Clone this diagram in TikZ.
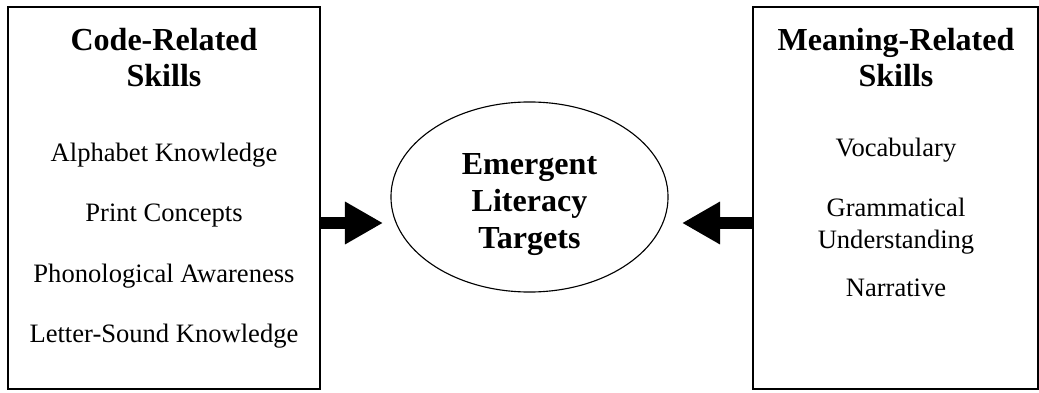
\documentclass[tikz,border=0pt]{standalone}
\usepackage{fontspec}
\setmainfont{Liberation Serif}
\usetikzlibrary{shapes,arrows.meta,positioning}

\begin{document}
\begin{tikzpicture}[x=0.025cm, y=-0.025cm,
    skillbox/.style={draw, line width=1.1pt, inner sep=0pt},
    heading/.style={align=center, anchor=base, font=\fontsize{22.8}{26.3}\selectfont\bfseries},
    item/.style={align=center, anchor=base, font=\fontsize{18.9}{22.5}\selectfont},
    fatarrow/.style={line width=0.3cm, -{Triangle[length=0.95cm, width=1.0cm]}}]
    \useasboundingbox (0,0) rectangle (1039,393);

    % Two boxes of skills
    \node[skillbox, minimum width=7.8cm, minimum height=9.55cm] (codebox) at (164,198) {};
    \node[skillbox, minimum width=7.125cm, minimum height=9.55cm] (meanbox) at (895.5,198) {};

    % Code side
    \node[heading] (codehead) at (164,87) {Code-Related\\Skills};
    \node[item] (alpha) at (164,162) {Alphabet Knowledge};
    \node[item] (print) at (164,222) {Print Concepts};
    \node[item] (phono) at (164,282) {Phonological Awareness};
    \node[item] (letter) at (164,342) {Letter-Sound Knowledge};

    % Meaning side
    \node[heading] (meanhead) at (896,87) {Meaning-Related\\Skills};
    \node[item] (vocab) at (896,157) {Vocabulary};
    \node[item] (gram) at (896,248) {Grammatical\\Understanding};
    \node[item] (narr) at (896,296) {Narrative};

    % Target in the middle
    \node[ellipse, draw, line width=0.8pt, minimum width=6.925cm, minimum height=4.75cm] (target) at (529.5,197) {};
    \node[heading] (targettext) at (529.5,248) {Emergent\\Literacy\\Targets};

    % Arrows
    \coordinate (tipL) at (383,223);
    \coordinate (tipR) at (682,223);
    \draw[fatarrow] (codebox.east |- tipL) -- (tipL);
    \draw[fatarrow] (meanbox.west |- tipR) -- (tipR);
\end{tikzpicture}
\end{document}
